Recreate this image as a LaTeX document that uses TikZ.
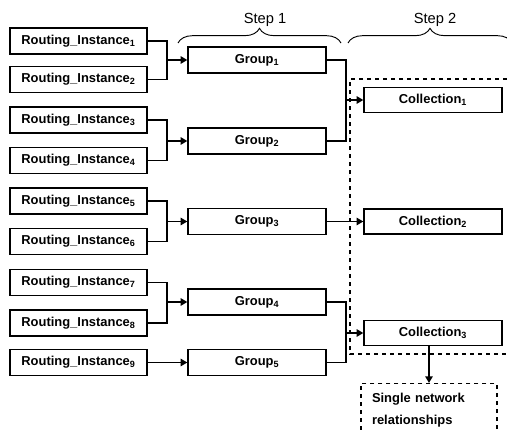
\documentclass[tikz,border=0pt]{standalone}
\usepackage{fontspec}
\setmainfont{Liberation Sans}
\usetikzlibrary{arrows.meta, decorations.pathreplacing}
\tikzset{
  inst/.style={rectangle, draw=black, fill=white, minimum width=102.75pt, minimum height=19.5pt, inner sep=0pt, font=\bfseries\fontsize{9.7}{11}\selectfont, line width=1pt},
  grp/.style={inst, minimum width=103.5pt},
  coll/.style={inst, minimum width=103.5pt, minimum height=18.75pt},
  netbox/.style={rectangle, draw=black, dashed, line width=1pt, text width=85.5pt, inner xsep=8.25pt, minimum height=40pt, align=left, font=\bfseries\fontsize{9.7}{16.5}\selectfont},
  arrow/.style={-{Triangle[length=5pt, width=5.5pt]}, line width=1.3pt},
  line/.style={line width=1.3pt},
  dashframe/.style={dashed, line width=1pt},
  brace/.style={decorate, decoration={brace, amplitude=11pt}, line width=0.7pt},
  steplabel/.style={font=\fontsize{11}{13}\selectfont}
}

\begin{document}
\begin{tikzpicture}[x=0.75pt, y=-0.75pt]
  \clip (0,0) rectangle (507,432);

  % Steps
  \draw[brace] (178,43) -- (341,43);
  \node[steplabel] (step1) at (265,20) {Step 1};
  \draw[brace] (348,43) -- (512,43);
  \node[steplabel] (step2) at (435,20) {Step 2};

  % Routing instances
  \node[inst] (ri1) at (78.5,41) {Routing\_Instance\textsubscript{1}};
  \node[inst] (ri2) at (78.5,79.5) {Routing\_Instance\textsubscript{2}};
  \node[inst] (ri3) at (78.5,120) {Routing\_Instance\textsubscript{3}};
  \node[inst] (ri4) at (78.5,160.5) {Routing\_Instance\textsubscript{4}};
  \node[inst] (ri5) at (78.5,201) {Routing\_Instance\textsubscript{5}};
  \node[inst] (ri6) at (78.5,241.5) {Routing\_Instance\textsubscript{6}};
  \node[inst] (ri7) at (78.5,282.5) {Routing\_Instance\textsubscript{7}};
  \node[inst] (ri8) at (78.5,323) {Routing\_Instance\textsubscript{8}};
  \node[inst] (ri9) at (78.5,362.5) {Routing\_Instance\textsubscript{9}};

  % Groups
  \node[grp] (grp1) at (257,60) {Group\textsubscript{1}};
  \node[grp] (grp2) at (257,141) {Group\textsubscript{2}};
  \node[grp] (grp3) at (257,221.5) {Group\textsubscript{3}};
  \node[grp] (grp4) at (257,302) {Group\textsubscript{4}};
  \node[grp] (grp5) at (257,362.5) {Group\textsubscript{5}};

  % Collections
  \node[coll] (col1) at (433,100) {Collection\textsubscript{1}};
  \node[coll] (col2) at (433,221.5) {Collection\textsubscript{2}};
  \node[coll] (col3) at (433,333) {Collection\textsubscript{3}};

  % Step 1 joins
  \coordinate (j1) at (167,60);
  \coordinate (j2) at (167,141);
  \coordinate (j3) at (167,221.5);
  \coordinate (j4) at (167,302);
  \draw[line] (ri1.east) -| (j1) |- (ri2.east);
  \draw[arrow] (j1) -- (grp1.west);
  \draw[line] (ri3.east) -| (j2) |- (ri4.east);
  \draw[arrow] (j2) -- (grp2.west);
  \draw[line] (ri5.east) -| (j3) |- (ri6.east);
  \draw[arrow] (j3) -- (grp3.west);
  \draw[line] (ri7.east) -| (j4) |- (ri8.east);
  \draw[arrow] (j4) -- (grp4.west);
  \draw[arrow] (ri9.east) -- (grp5.west);

  % Step 2 joins
  \coordinate (k1) at (346,100);
  \coordinate (k2) at (346,333);
  \draw[line] (grp1.east) -| (k1) |- (grp2.east);
  \draw[arrow] (k1) -- (col1.west);
  \draw[arrow] (grp3.east) -- (col2.west);
  \draw[line] (grp4.east) -| (k2) |- (grp5.east);
  \draw[arrow] (k2) -- (col3.west);

  % Dashed frame round the collections
  \draw[dashframe] (515,79) -| (350,354) -- (515,354);

  % Result
  \node[netbox, anchor=north] (net) at (429,383) {Single network\\relationships};
  \draw[arrow] (col3.south -| net.north) -- (net.north);
\end{tikzpicture}
\end{document}
